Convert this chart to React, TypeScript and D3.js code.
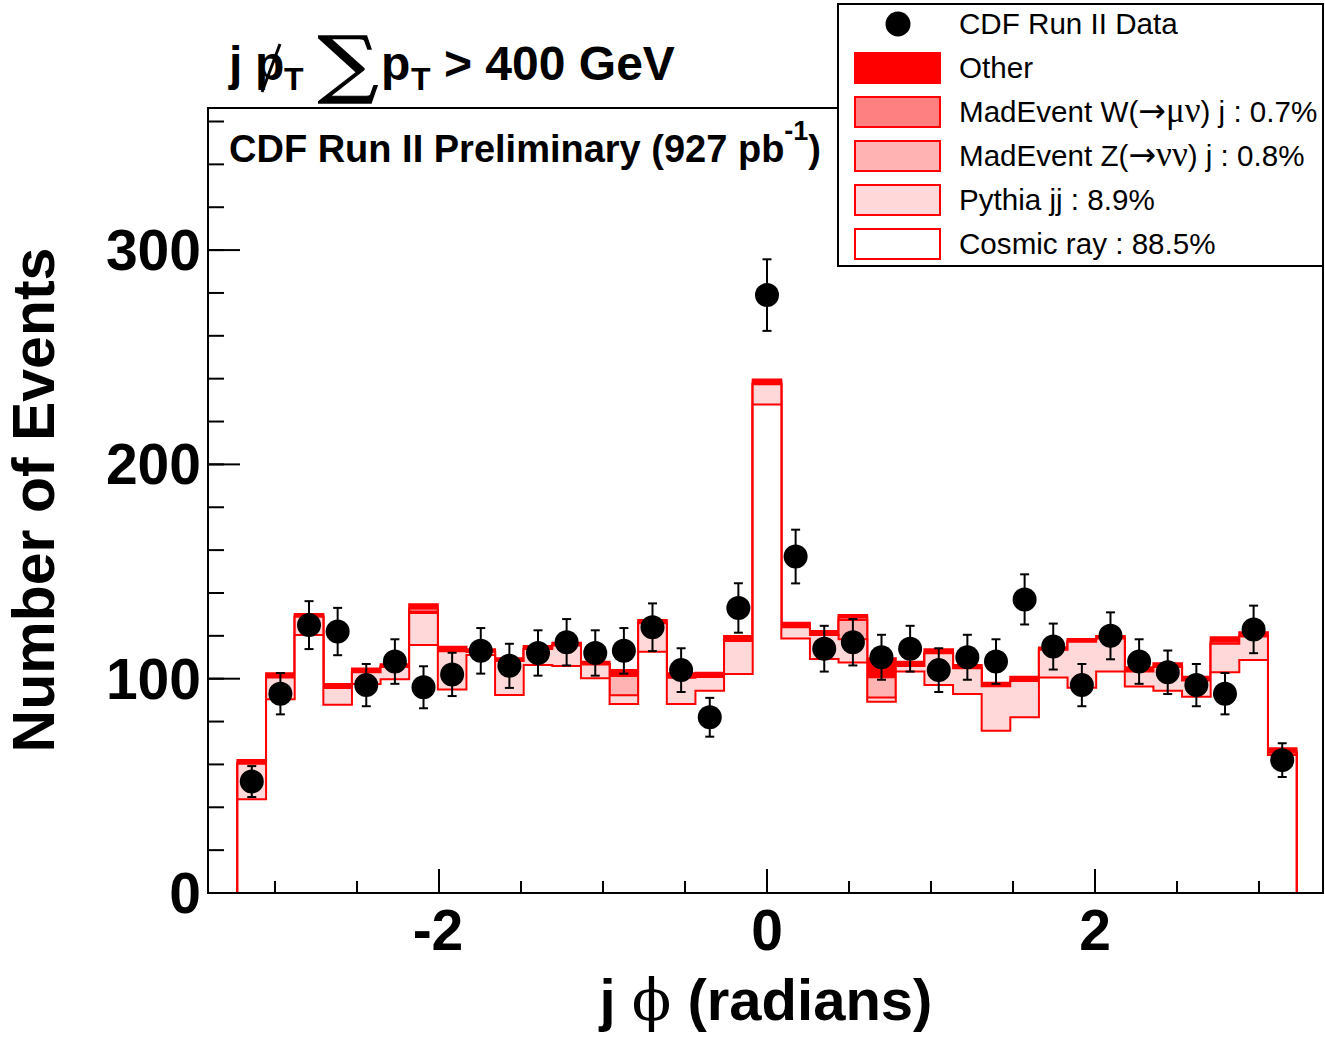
import React from 'react';
import * as d3 from 'd3';

// 37 bins of width pi/18 centred on -pi ... +pi
const binCenters = d3.range(37).map((k) => -Math.PI + (k * Math.PI) / 18);
const binWidth = Math.PI / 18;

const dataCounts = [52, 93, 125, 122, 97, 108, 96, 102, 113, 106, 112, 117, 112, 113, 124, 104, 82, 133, 279, 157, 114, 117, 110, 114, 104, 110, 108, 137, 115, 97, 120, 108, 103, 97, 93, 123, 62];

const cosmic = [43.7, 90.4, 120.4, 87.9, 97.5, 99.7, 115.7, 95.0, 111.0, 92.4, 106.4, 105.9, 100.2, 88.2, 112.6, 88.2, 94.4, 102.2, 228.0, 118.8, 109.2, 107.6, 89.3, 103.3, 97.0, 92.9, 75.7, 82.0, 100.6, 95.8, 103.3, 96.3, 94.4, 91.6, 103.0, 108.7, 64.4];
const pythia = [16.6, 10.2, 8.5, 7.7, 5.5, 5.7, 15.0, 17.8, 1.4, 15.8, 7.4, 9.6, 6.4, 4.1, 13.3, 12.2, 6.4, 15.4, 9.4, 5.2, 11.2, 10.8, 1.9, 2.6, 14.9, 12.0, 20.8, 16.9, 12.9, 21.4, 15.5, 7.0, 11.0, 7.5, 13.3, 11.0, 1.1];
const zjets = [0.3, 0, 0, 0, 0, 0, 0.5, 0, 0, 0, 0, 0, 0, 8.9, 0, 0, 0, 0, 0, 0, 0, 9.0, 9.5, 0, 0, 0, 0, 0, 0, 0, 0, 0, 0, 0, 0, 0, 0];
const wjets = [0.3, 0.4, 0.3, 0.4, 0.3, 0.3, 1.5, 0.6, 0.3, 0.3, 0.3, 0.3, 0.3, 0.8, 0.3, 0.5, 0.5, 0.8, 0.7, 0.6, 0.5, 1.2, 0.6, 0.5, 0.3, 0.3, 0.4, 0.5, 0.3, 0.5, 0.3, 0.5, 0.3, 0.3, 1.0, 0.5, 0.5];
const other = [1.2, 1.5, 1.0, 1.5, 1.5, 1.0, 2.0, 1.5, 1.0, 1.0, 1.2, 1.0, 1.0, 2.0, 1.2, 1.6, 1.5, 1.5, 1.5, 1.5, 1.4, 1.1, 8.2, 1.5, 1.5, 1.2, 1.2, 1.5, 0.8, 0.8, 0.8, 1.5, 1.5, 1.5, 2.0, 1.5, 1.5];

const layerNames = ['cosmic', 'pythia', 'zjets', 'wjets', 'other'];
const layerFills = ['#ffffff', '#ffd9d9', '#ffb3b3', '#ff8080', '#ff0000'];

// legend entries: [before, symbol part, after]
const legendLabels: [string, string, string][] = [
  ['CDF Run II Data', '', ''],
  ['Other', '', ''],
  ['MadEvent W(', '\u2192\u03bc\u03bd', ') j : 0.7%'],
  ['MadEvent Z(', '\u2192\u03bd\u03bd', ') j : 0.8%'],
  ['Pythia jj : 8.9%', '', ''],
  ['Cosmic ray : 88.5%', '', ''],
];
const legendFills = ['#000000', '#ff0000', '#ff8080', '#ffb3b3', '#ffd9d9', '#ffffff'];

const xMajorTicks = [-2, 0, 2];
const xMinorTicks = [-3, -2.5, -1.5, -1, -0.5, 0.5, 1, 1.5, 2.5, 3];
const yMajorTicks = [0, 100, 200, 300];
const yMinorTicks = d3.range(0, 361, 20);

const FONT = 'Liberation Sans, Arial, Helvetica, sans-serif';
const SERIF = 'Liberation Serif, Times New Roman, serif';

export default function App() {
  const x = d3.scaleLinear().domain([-3.4085, 3.3902]).range([208, 1323]);
  const y = d3.scaleLinear().domain([0, 366.3]).range([893, 108]);

  const layers = [cosmic, pythia, zjets, wjets, other];
  const table = binCenters.map((c, i) => {
    const row: any = { c };
    layerNames.forEach((n, j) => (row[n] = layers[j][i]));
    return row;
  });
  const stacked = d3.stack().keys(layerNames)(table);

  const stepPath = (tops: number[]) => {
    let p = `M${x(binCenters[0] - binWidth / 2)},${y(0)}`;
    tops.forEach((t, i) => {
      const l = x(binCenters[i] - binWidth / 2);
      const r = x(binCenters[i] + binWidth / 2);
      p += `L${l},${y(t)}L${r},${y(t)}`;
    });
    p += `L${x(binCenters[binCenters.length - 1] + binWidth / 2)},${y(0)}Z`;
    return p;
  };

  // draw from top layer (total) down to cosmic
  const drawOrder = [4, 3, 2, 1, 0];

  return (
    <svg width={1325} height={1040} style={{ position: 'absolute', left: 0, top: 0, background: '#fff' }} fontFamily={FONT}>
      <rect x={0} y={0} width={1325} height={1040} fill="#fff" />
      <rect x={208} y={108} width={1115} height={785} fill="#fff" />

      {drawOrder.map((li) => (
        <path
          key={li}
          d={stepPath(stacked[li].map((d) => d[1]))}
          fill={layerFills[li]}
          stroke="#ff0000"
          strokeWidth={2}
          strokeLinejoin="miter"
        />
      ))}

      {/* data with error bars */}
      {dataCounts.map((n, i) => {
        const cx = x(binCenters[i]);
        const e = Math.sqrt(n);
        return (
          <g key={i}>
            <line x1={cx} x2={cx} y1={y(n + e)} y2={y(n - e)} stroke="#000" strokeWidth={2} />
            <line x1={cx - 4.5} x2={cx + 4.5} y1={y(n + e)} y2={y(n + e)} stroke="#000" strokeWidth={2} />
            <line x1={cx - 4.5} x2={cx + 4.5} y1={y(n - e)} y2={y(n - e)} stroke="#000" strokeWidth={2} />
            <circle cx={cx} cy={y(n)} r={12} fill="#000" />
          </g>
        );
      })}

      {/* frame */}
      <rect x={208} y={108} width={1115} height={785} fill="none" stroke="#000" strokeWidth={2} />

      {/* y ticks */}
      {yMinorTicks.map((t) => (
        <line key={'ym' + t} x1={208} x2={224} y1={y(t)} y2={y(t)} stroke="#000" strokeWidth={2} />
      ))}
      {yMajorTicks.map((t) => (
        <g key={'yM' + t}>
          <line x1={208} x2={240} y1={y(t)} y2={y(t)} stroke="#000" strokeWidth={2} />
          <text x={201} y={y(t) + 20} textAnchor="end" fontSize={57} fontWeight="bold">
            {t}
          </text>
        </g>
      ))}

      {/* x ticks */}
      {xMinorTicks.map((t) => (
        <line key={'xm' + t} x1={x(t)} x2={x(t)} y1={893} y2={881} stroke="#000" strokeWidth={2} />
      ))}
      {xMajorTicks.map((t) => (
        <g key={'xM' + t}>
          <line x1={x(t)} x2={x(t)} y1={893} y2={869} stroke="#000" strokeWidth={2} />
          <text x={x(t) - (t < 0 ? 1 : 0)} y={950} textAnchor="middle" fontSize={57} fontWeight="bold">
            {t < 0 ? '-' + Math.abs(t) : t}
          </text>
        </g>
      ))}

      {/* axis titles */}
      <text transform="translate(54,500) rotate(-90)" textAnchor="middle" fontSize={59} fontWeight="bold">
        Number of Events
      </text>
      <text x={766} y={1020} textAnchor="middle" fontSize={58} fontWeight="bold">
        j <tspan fontWeight="normal" fontFamily="DejaVu Serif">{'\u03d5'}</tspan> (radians)
      </text>

      {/* title */}
      <text x={229} y={80} fontSize={48} fontWeight="bold">j</text>
      <text x={255} y={80} fontSize={48} fontWeight="bold">p</text>
      <line x1={262} y1={92} x2={280} y2={44} stroke="#000" strokeWidth={3} />
      <text x={284} y={90} fontSize={32} fontWeight="bold">T</text>
      <text
        transform="translate(318,89) scale(1.14,1)"
        fontSize={74}
        fontFamily="DejaVu Serif"
        stroke="#000"
        strokeWidth={1.2}
      >
        {'\u2211'}
      </text>
      <text x={381} y={80} fontSize={48} fontWeight="bold">p</text>
      <text x={411} y={90} fontSize={32} fontWeight="bold">T</text>
      <text x={444} y={80} fontSize={48} fontWeight="bold">{'> 400 GeV'}</text>

      <text x={229} y={162} fontSize={38} fontWeight="bold">
        CDF Run II Preliminary (927 pb
        <tspan dy={-22} fontSize={27}>-1</tspan>
        <tspan dy={22}>)</tspan>
      </text>

      {/* legend */}
      <rect x={838} y={4} width={485} height={262} fill="#fff" stroke="#000" strokeWidth={2} />
      {legendLabels.map((lab, i) => {
        const cy = 24 + i * 44;
        return (
          <g key={lab.join('')}>
            {i === 0 ? (
              <circle cx={898} cy={cy} r={12.5} fill="#000" />
            ) : (
              <rect x={855} y={cy - 15} width={85} height={30} fill={legendFills[i]} stroke="#ff0000" strokeWidth={2} />
            )}
            <text x={959} y={cy + 10} fontSize={29.6}>
              {lab[0]}
              {lab[1] ? (
                <tspan fontFamily={SERIF} fontSize={35}>
                  <tspan fontFamily="DejaVu Sans" fontSize={33}>{lab[1].slice(0, 1)}</tspan>
                  {lab[1].slice(1)}
                </tspan>
              ) : null}
              {lab[2]}
            </text>
          </g>
        );
      })}
    </svg>
  );
}
